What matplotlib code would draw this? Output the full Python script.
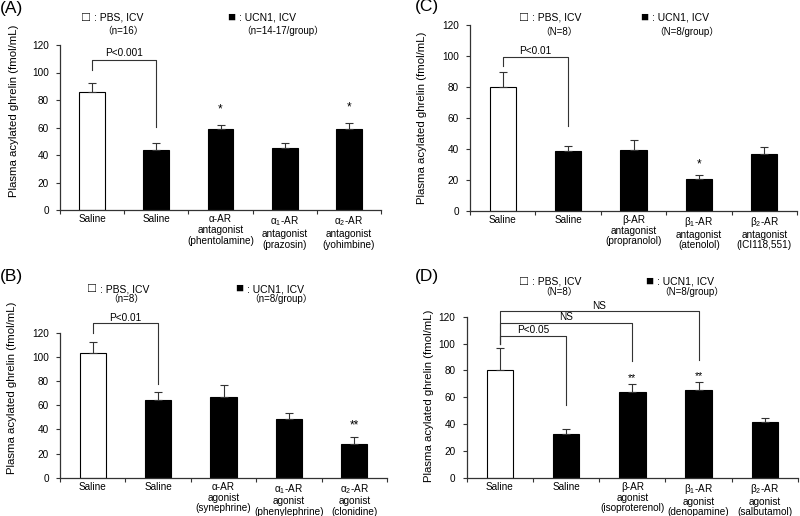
import numpy as np
import matplotlib
matplotlib.use("Agg")
import matplotlib.pyplot as plt

plt.rcParams["font.family"] = ["Liberation Sans", "Noto Sans CJK JP", "DejaVu Sans"]
plt.rcParams["mathtext.default"] = "regular"

# Data
labels_a = ["Saline", "Saline", "α-AR\nantagonist\n(phentolamine)",
            "α$_1$-AR\nantagonist\n(prazosin)", "α$_2$-AR\nantagonist\n(yohimbine)"]
means_a = [85.6, 43.6, 58.7, 45.1, 58.9]
sem_a = [7.0, 4.9, 3.1, 3.4, 4.6]

labels_b = ["Saline", "Saline", "α-AR\nagonist\n(synephrine)",
            "α$_1$-AR\nagonist\n(phenylephrine)", "α$_2$-AR\nagonist\n(clonidine)"]
means_b = [102.9, 64.3, 66.5, 48.3, 28.1]
sem_b = [9.7, 6.9, 9.9, 5.5, 5.6]

labels_c = ["Saline", "Saline", "β-AR\nantagonist\n(propranolol)",
            "β$_1$-AR\nantagonist\n(atenolol)", "β$_2$-AR\nantagonist\n(ICI118,551)"]
means_c = [80.1, 38.6, 39.2, 20.2, 36.8]
sem_c = [9.5, 3.4, 6.5, 2.8, 4.6]

labels_d = ["Saline", "Saline", "β-AR\nagonist\n(isoproterenol)",
            "β$_1$-AR\nagonist\n(denopamine)", "β$_2$-AR\nagonist\n(salbutamol)"]
means_d = [80.0, 32.8, 63.9, 65.1, 41.7]
sem_d = [16.9, 3.5, 5.7, 6.2, 3.0]

LINE = "#333333"
fig = plt.figure(figsize=(8, 5.16), dpi=100)
H = 516.0
W = 800.0


def header(x_pbs, x_ucn, y1, y2, n_pbs, n_ucn):
    # legend-like header text, positions in pixels from top-left
    fig.text(x_pbs / W, 1 - y1 / H, "□", fontsize=9.5, ha="left", va="center")
    fig.text((x_pbs + 12) / W, 1 - y1 / H, ": PBS, ICV", fontsize=7.5, ha="left", va="center")
    fig.text((x_pbs + 20) / W, 1 - y2 / H, n_pbs, fontsize=7, ha="left", va="center")
    fig.text(x_ucn / W, 1 - y1 / H, "■", fontsize=9.5, ha="left", va="center")
    fig.text((x_ucn + 12) / W, 1 - y1 / H, ": UCN1, ICV", fontsize=7.5, ha="left", va="center")
    fig.text((x_ucn + 14) / W, 1 - y2 / H, n_ucn, fontsize=7, ha="left", va="center")


def panel(rect, labels, means, sems, letter, label_xy):
    ax = fig.add_axes(rect)
    x = np.arange(len(means))
    colors = ["white"] + ["black"] * (len(means) - 1)
    ax.bar(x, means, width=0.4, color=colors, edgecolor="black", linewidth=0.8,
           yerr=[np.zeros(len(sems)), sems], capsize=3,
           error_kw=dict(elinewidth=0.8, capthick=0.8, ecolor=LINE))
    ax.set_xlim(-0.5, len(means) - 0.5)
    ax.set_ylim(0, 120)
    ax.set_yticks(np.arange(0, 121, 20))
    ax.set_xticks(np.arange(len(means) + 1) - 0.5)
    ax.set_xticklabels([])
    ax.set_xticks(x, minor=True)
    ax.set_xticklabels(labels, minor=True, fontsize=7.2, linespacing=1.1)
    ax.tick_params(axis="x", which="major", length=3, color=LINE, direction="out")
    ax.tick_params(axis="x", which="minor", length=0, pad=3)
    ax.tick_params(axis="y", length=3, color=LINE, labelsize=7.2, pad=5)
    for s in ["top", "right"]:
        ax.spines[s].set_visible(False)
    for s in ["left", "bottom"]:
        ax.spines[s].set_color(LINE)
        ax.spines[s].set_linewidth(0.9)
    ax.set_ylabel("Plasma acylated ghrelin (fmol/mL)", fontsize=8.2)
    fig.text(label_xy[0] / W, 1 - label_xy[1] / H, letter, fontsize=12.5,
             ha="left", va="center")
    return ax


def bracket(ax, x1, x2, y_left, y_top, y_right, text, text_y):
    ax.plot([x1, x1, x2, x2], [y_left, y_top, y_top, y_right], color=LINE,
            linewidth=0.8, clip_on=False)
    ax.text((x1 + x2) / 2, text_y, text, fontsize=7.2, ha="center", va="center")


ax_a = panel([60 / W, 1 - 210 / H, 321 / W, 165 / H], labels_a, means_a, sem_a, "(A)", (0, 8))
header(82, 227, 18, 31, "（n=16）", "（n=14-17/group）")
ax_a.yaxis.set_label_coords(-0.128, 0.6)
bracket(ax_a, 0, 1, 102, 109, 60.6, "P<0.001", 114.5)
ax_a.text(2, 73, "*", fontsize=8.5, ha="center", va="center")
ax_a.text(4, 74.5, "*", fontsize=8.5, ha="center", va="center")

ax_c = panel([470 / W, 1 - 210.7 / H, 327 / W, 185.7 / H], labels_c, means_c, sem_c, "(C)", (415, 7))
header(520, 640, 18, 32, "（N=8）", "（N=8/group）")
ax_c.yaxis.set_label_coords(-0.131, 0.5)
bracket(ax_c, 0, 1, 93.7, 99.1, 54.7, "P<0.01", 103)
ax_c.text(3, 30, "*", fontsize=8.5, ha="center", va="center")

ax_b = panel([60 / W, 1 - 477.7 / H, 327 / W, 145 / H], labels_b, means_b, sem_b, "(B)", (0, 277))
header(88, 235, 289, 299, "（n=8）", "（n=8/group）")
ax_b.yaxis.set_label_coords(-0.13, 0.62)
bracket(ax_b, 0, 1, 120, 128.3, 77.2, "P<0.01", 132.5)
ax_b.text(4, 43, "**", fontsize=8.5, ha="center", va="center")

ax_d = panel([466.7 / W, 1 - 477.7 / H, 331.3 / W, 161 / H], labels_d, means_d, sem_d, "(D)", (415, 277))
header(520, 645, 282, 292, "（N=8）", "（N=8/group）")
ax_d.yaxis.set_label_coords(-0.10, 0.51)
bracket(ax_d, 0, 1, 100, 105.6, 54.2, "P<0.05", 110)
bracket(ax_d, 0, 2, 100, 115.5, 87, "NS", 119.5)
bracket(ax_d, 0, 3, 100, 124.2, 87.7, "NS", 127.8)
ax_d.text(2, 74.5, "**", fontsize=7.5, ha="center", va="center")
ax_d.text(3, 75.5, "**", fontsize=7.5, ha="center", va="center")

fig.savefig("out.png", dpi=100)
